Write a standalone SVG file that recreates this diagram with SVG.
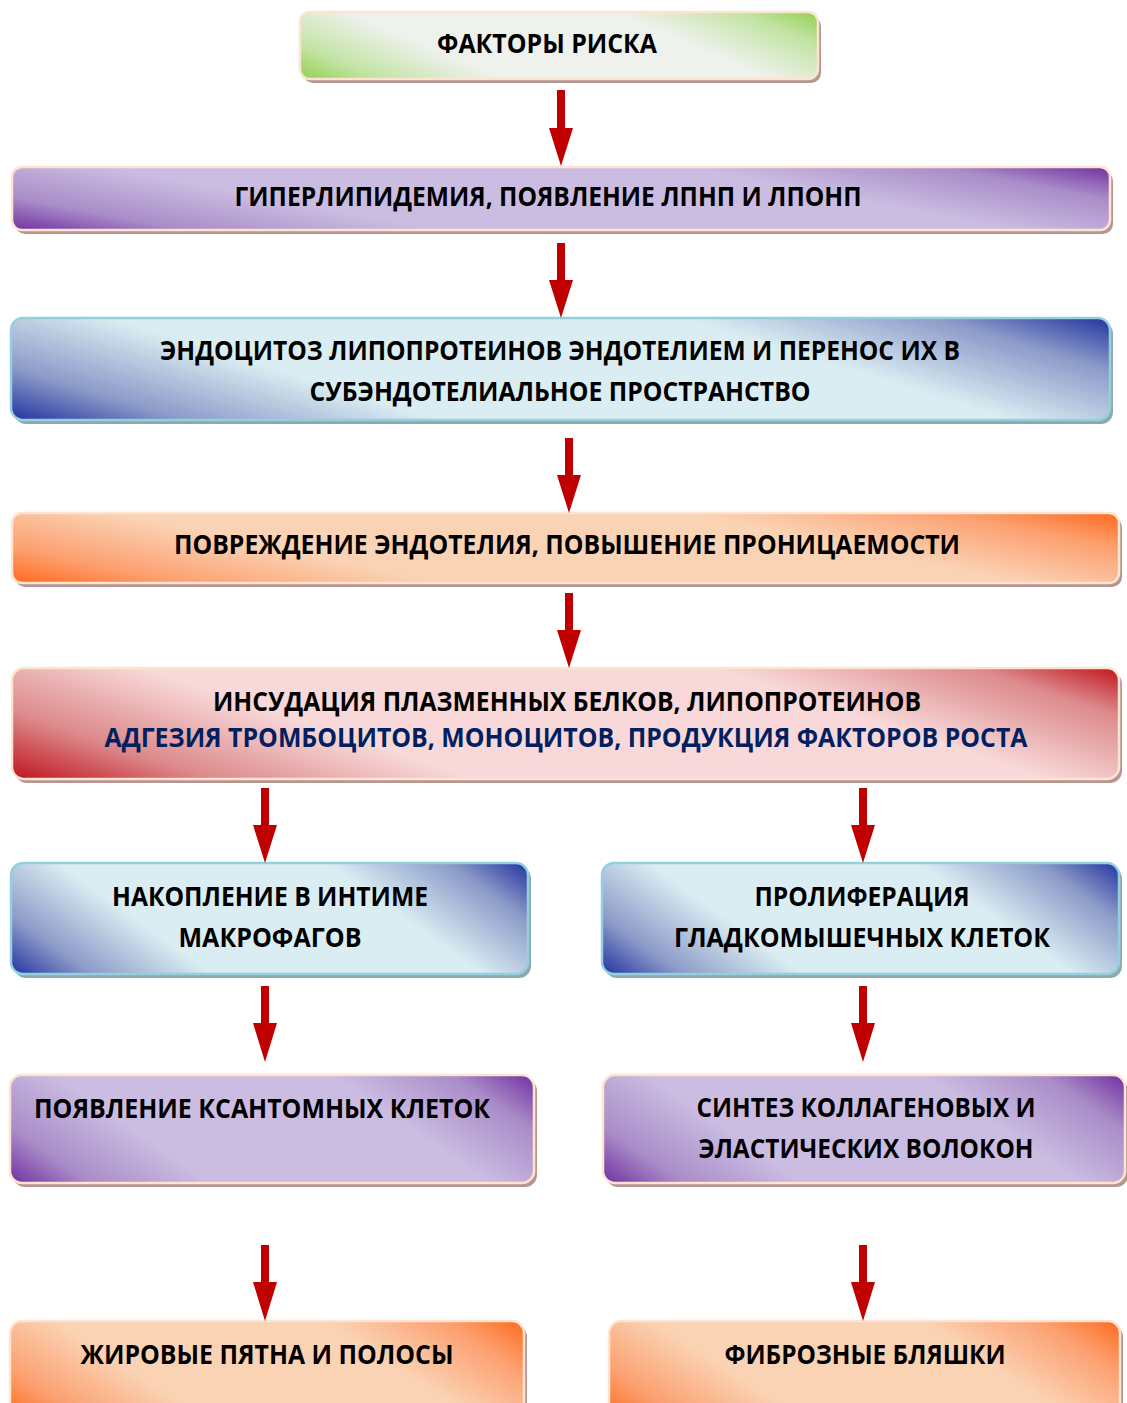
<svg xmlns="http://www.w3.org/2000/svg" width="1127" height="1403" viewBox="0 0 1127 1403">
<defs>
<linearGradient id="gGreen" x1="0" y1="1" x2="1.193" y2="0.642">
<stop offset="0" stop-color="#92d050"/><stop offset="0.12" stop-color="#c3e4a4"/><stop offset="0.3" stop-color="#eef1ec"/><stop offset="0.7" stop-color="#eef1ec"/><stop offset="0.88" stop-color="#c3e4a4"/><stop offset="1" stop-color="#92d050"/>
</linearGradient>
<linearGradient id="gPurple" x1="0" y1="1" x2="1.193" y2="0.642">
<stop offset="0" stop-color="#7030a0"/><stop offset="0.12" stop-color="#a98cc8"/><stop offset="0.3" stop-color="#cbbde2"/><stop offset="0.7" stop-color="#cbbde2"/><stop offset="0.88" stop-color="#a98cc8"/><stop offset="1" stop-color="#7030a0"/>
</linearGradient>
<linearGradient id="gBlue" x1="0" y1="1" x2="1.193" y2="0.642">
<stop offset="0" stop-color="#2233a0"/><stop offset="0.12" stop-color="#8c9ac8"/><stop offset="0.3" stop-color="#daedf2"/><stop offset="0.7" stop-color="#daedf2"/><stop offset="0.88" stop-color="#8c9ac8"/><stop offset="1" stop-color="#2233a0"/>
</linearGradient>
<linearGradient id="gOrange" x1="0" y1="1" x2="1.193" y2="0.642">
<stop offset="0" stop-color="#ff6a1e"/><stop offset="0.12" stop-color="#fca070"/><stop offset="0.3" stop-color="#fad3b4"/><stop offset="0.7" stop-color="#fad3b4"/><stop offset="0.88" stop-color="#fca070"/><stop offset="1" stop-color="#ff6a1e"/>
</linearGradient>
<linearGradient id="gRed" x1="0" y1="1" x2="1.193" y2="0.642">
<stop offset="0" stop-color="#c0141c"/><stop offset="0.14" stop-color="#dc8a8c"/><stop offset="0.32" stop-color="#f8d8d8"/><stop offset="0.72" stop-color="#f8d8d8"/><stop offset="0.9" stop-color="#dc8a8c"/><stop offset="1" stop-color="#c0141c"/>
</linearGradient>
</defs>
<style>
.sh{fill:#b79592}
.shb{fill:#8fa8ae}
.warm{stroke:#fde4d0;stroke-width:2.5}
.cool{stroke:#92d0dd;stroke-width:2.5}
.t{font-family:"Open Sans","Noto Sans","DejaVu Sans",sans-serif;font-weight:bold;font-size:26px;fill:#000}
.tn{fill:#002060}
.arr{fill:#c00000}
</style>
<rect width="1127" height="1403" fill="#fff"/>

<g id="n1">
<rect class="sh" x="303" y="16" width="518" height="67" rx="10"/>
<rect class="warm" x="300" y="12" width="518" height="67" rx="10" fill="url(#gGreen)"/>
<text class="t" x="547" y="53" text-anchor="middle" textLength="220" lengthAdjust="spacingAndGlyphs">ФАКТОРЫ РИСКА</text>
</g>

<g id="n2">
<rect class="sh" x="15" y="171" width="1098" height="63" rx="10"/>
<rect class="warm" x="12" y="167" width="1098" height="63" rx="10" fill="url(#gPurple)"/>
<text class="t" x="548" y="206" text-anchor="middle" textLength="627" lengthAdjust="spacingAndGlyphs">ГИПЕРЛИПИДЕМИЯ, ПОЯВЛЕНИЕ ЛПНП И ЛПОНП</text>
</g>

<g id="n3">
<rect class="shb" x="14" y="322" width="1099" height="102" rx="12"/>
<rect class="cool" x="11" y="318" width="1099" height="102" rx="12" fill="url(#gBlue)"/>
<text class="t" x="560" y="360" text-anchor="middle" textLength="800" lengthAdjust="spacingAndGlyphs">ЭНДОЦИТОЗ ЛИПОПРОТЕИНОВ ЭНДОТЕЛИЕМ И ПЕРЕНОС ИХ В</text>
<text class="t" x="560" y="401" text-anchor="middle" textLength="501" lengthAdjust="spacingAndGlyphs">СУБЭНДОТЕЛИАЛЬНОЕ ПРОСТРАНСТВО</text>
</g>

<g id="n4">
<rect class="sh" x="15" y="517" width="1107" height="70" rx="10"/>
<rect class="warm" x="12" y="513" width="1107" height="70" rx="10" fill="url(#gOrange)"/>
<text class="t" x="567" y="554" text-anchor="middle" textLength="786" lengthAdjust="spacingAndGlyphs">ПОВРЕЖДЕНИЕ ЭНДОТЕЛИЯ, ПОВЫШЕНИЕ ПРОНИЦАЕМОСТИ</text>
</g>

<g id="n5">
<rect class="sh" x="15" y="672" width="1107" height="111" rx="12"/>
<rect class="warm" x="12" y="668" width="1107" height="111" rx="12" fill="url(#gRed)"/>
<text class="t" x="567" y="711" text-anchor="middle" textLength="708" lengthAdjust="spacingAndGlyphs">ИНСУДАЦИЯ ПЛАЗМЕННЫХ БЕЛКОВ, ЛИПОПРОТЕИНОВ</text>
<text class="t tn" x="566" y="747" text-anchor="middle" textLength="923" lengthAdjust="spacingAndGlyphs">АДГЕЗИЯ ТРОМБОЦИТОВ, МОНОЦИТОВ, ПРОДУКЦИЯ ФАКТОРОВ РОСТА</text>
</g>

<g id="n6l">
<rect class="shb" x="14" y="867" width="517" height="111" rx="12"/>
<rect class="cool" x="11" y="863" width="517" height="111" rx="12" fill="url(#gBlue)"/>
<text class="t" x="270" y="906" text-anchor="middle" textLength="316" lengthAdjust="spacingAndGlyphs">НАКОПЛЕНИЕ В ИНТИМЕ</text>
<text class="t" x="270" y="947" text-anchor="middle" textLength="183" lengthAdjust="spacingAndGlyphs">МАКРОФАГОВ</text>
</g>

<g id="n6r">
<rect class="shb" x="605" y="867" width="517" height="111" rx="12"/>
<rect class="cool" x="602" y="863" width="517" height="111" rx="12" fill="url(#gBlue)"/>
<text class="t" x="862" y="906" text-anchor="middle" textLength="215" lengthAdjust="spacingAndGlyphs">ПРОЛИФЕРАЦИЯ</text>
<text class="t" x="862" y="947" text-anchor="middle" textLength="376" lengthAdjust="spacingAndGlyphs">ГЛАДКОМЫШЕЧНЫХ КЛЕТОК</text>
</g>

<g id="n7l">
<rect class="sh" x="13" y="1079" width="524" height="108" rx="12"/>
<rect class="warm" x="10" y="1075" width="524" height="108" rx="12" fill="url(#gPurple)"/>
<text class="t" x="34" y="1118" textLength="456" lengthAdjust="spacingAndGlyphs">ПОЯВЛЕНИЕ КСАНТОМНЫХ КЛЕТОК</text>
</g>

<g id="n7r">
<rect class="sh" x="606" y="1079" width="522" height="108" rx="12"/>
<rect class="warm" x="603" y="1075" width="522" height="108" rx="12" fill="url(#gPurple)"/>
<text class="t" x="866" y="1117" text-anchor="middle" textLength="339" lengthAdjust="spacingAndGlyphs">СИНТЕЗ КОЛЛАГЕНОВЫХ И</text>
<text class="t" x="866" y="1158" text-anchor="middle" textLength="335" lengthAdjust="spacingAndGlyphs">ЭЛАСТИЧЕСКИХ ВОЛОКОН</text>
</g>

<g id="n8l">
<rect class="sh" x="13" y="1325" width="514" height="100" rx="12"/>
<rect class="warm" x="10" y="1321" width="514" height="100" rx="12" fill="url(#gOrange)"/>
<text class="t" x="267" y="1364" text-anchor="middle" textLength="373" lengthAdjust="spacingAndGlyphs">ЖИРОВЫЕ ПЯТНА И ПОЛОСЫ</text>
</g>

<g id="n8r">
<rect class="sh" x="612" y="1325" width="511" height="100" rx="12"/>
<rect class="warm" x="609" y="1321" width="511" height="100" rx="12" fill="url(#gOrange)"/>
<text class="t" x="865" y="1364" text-anchor="middle" textLength="281" lengthAdjust="spacingAndGlyphs">ФИБРОЗНЫЕ БЛЯШКИ</text>
</g>

<g id="connectors">
<polygon class="arr" points="557,90 565,90 565,128 573,128 561,166 549,128 557,128"/>
<polygon class="arr" points="557,243 565,243 565,280 573,280 561,318 549,280 557,280"/>
<polygon class="arr" points="565,438 573,438 573,475 581,475 569,513 557,475 565,475"/>
<polygon class="arr" points="565,593 573,593 573,630 581,630 569,668 557,630 565,630"/>
<polygon class="arr" points="261,788 269,788 269,825 277,825 265,863 253,825 261,825"/>
<polygon class="arr" points="859,788 867,788 867,825 875,825 863,863 851,825 859,825"/>
<polygon class="arr" points="261,986 269,986 269,1023 277,1023 265,1062 253,1023 261,1023"/>
<polygon class="arr" points="859,986 867,986 867,1023 875,1023 863,1062 851,1023 859,1023"/>
<polygon class="arr" points="261,1245 269,1245 269,1282 277,1282 265,1321 253,1282 261,1282"/>
<polygon class="arr" points="859,1245 867,1245 867,1282 875,1282 863,1321 851,1282 859,1282"/>
</g>
</svg>
